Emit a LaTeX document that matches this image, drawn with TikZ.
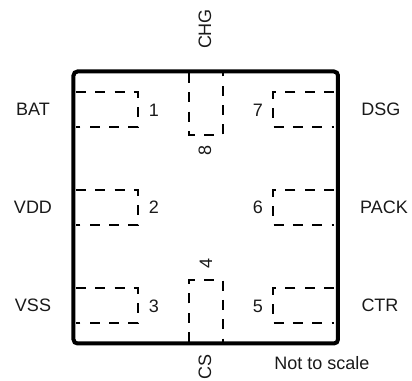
\documentclass[tikz,border=0pt]{standalone}
\usepackage{fontspec}
\setmainfont{Liberation Sans}
\usetikzlibrary{positioning}
\tikzset{
	outline/.style={line width=3pt,rounded corners=3pt},
	padline/.style={line width=1.1pt,dash pattern=on 7.5pt off 7pt},
	pinname/.style={font=\fontsize{13.5pt}{15pt}\selectfont,inner sep=0pt,text=black!90},
}
\begin{document}
\begin{tikzpicture}[x=0.75pt,y=-0.75pt]
	\useasboundingbox (0,0) rectangle (412,381);

	% side pads, left column
	\foreach \y in {92,190,288}
		\draw[padline] (76,\y) -- (138,\y) -- (138,\y+35) -- (76,\y+35);
	% side pads, right column
	\foreach \y in {92,190,288}
		\draw[padline] (334,\y) -- (273,\y) -- (273,\y+35) -- (334,\y+35);
	% top and bottom pads
	\draw[padline] (189,73) -- (189,135) -- (223,135) -- (223,73);
	\draw[padline] (189,342) -- (189,280) -- (223,280) -- (223,342);

	% package outline
	\draw[outline] (73.5,71.5) rectangle (338,343.5);

	% pin numbers
	\node[pinname] (n1) at (154,110) {1};
	\node[pinname] (n2) at (154,207) {2};
	\node[pinname] (n3) at (154,306) {3};
	\node[pinname] (n5) at (258,306) {5};
	\node[pinname] (n6) at (258,207) {6};
	\node[pinname] (n7) at (258,110) {7};
	\node[pinname,rotate=90] (n4) at (206,263) {4};
	\node[pinname,rotate=90] (n8) at (205,150) {8};

	% pin names
	\node[pinname] (bat) at (33,109) {BAT};
	\node[pinname] (vdd) at (33,207) {VDD};
	\node[pinname] (vss) at (33,305) {VSS};
	\node[pinname] (dsg) at (381,109) {DSG};
	\node[pinname] (pack) at (384,207) {PACK};
	\node[pinname] (ctr) at (380,305) {CTR};
	\node[pinname,rotate=90] (chg) at (205,29) {CHG};
	\node[pinname,rotate=90] (cs) at (205,367) {CS};
	\node[pinname] (note) at (322,363) {Not to scale};
\end{tikzpicture}
\end{document}
